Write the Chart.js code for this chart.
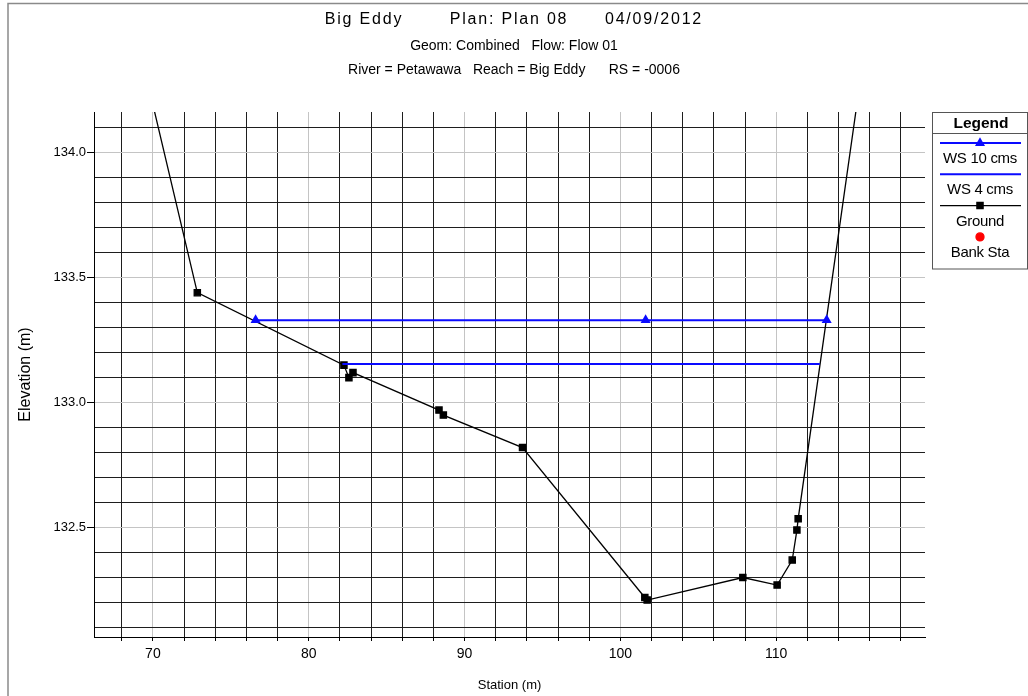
<!DOCTYPE html>
<html>
<head>
<meta charset="utf-8">
<title>Big Eddy cross section RS -0006</title>
<script src="https://cdn.jsdelivr.net/npm/chart.js@4/dist/chart.umd.min.js"></script>
<style>
  html, body { margin: 0; padding: 0; background: #fff; }
  #wrap { width: 1028px; height: 696px; position: relative; }
</style>
</head>
<body>
<div id="wrap"><canvas id="xs" width="1028" height="696"></canvas></div>
<script>
// Cross-section survey, station (m) / elevation (m)
const groundStation   = [68.0, 72.85, 82.26, 82.58, 82.84, 88.36, 88.64, 93.72, 101.57, 101.72, 107.86, 110.06, 111.03, 111.33, 111.41, 116.0];
const groundElevation = [134.72, 133.44, 133.15, 133.10, 133.12, 132.97, 132.95, 132.82, 132.22, 132.21, 132.30, 132.27, 132.37, 132.49, 132.535, 134.555];

// Water surfaces for the two profiles
const ws10Station   = [76.59, 101.62, 113.24];
const ws10Elevation = [133.33, 133.33, 133.33];
const ws4Station    = [82.16, 112.80];
const ws4Elevation  = [133.155, 133.155];

// Bank stations (none inside the plotted window)
const bankStation   = [];
const bankElevation = [];

// Axes
const xTickLabels = [70, 80, 90, 100, 110];
const yTickLabels = [132.5, 133.0, 133.5, 134.0];
const xRange = [66.22, 119.55];
const yRange = [132.062, 134.163];
const xGridStep = 2;
const yGridStep = 0.1;

const titleParts = ['Big Eddy', 'Plan: Plan 08', '04/09/2012'];
const subtitleLines = ['Geom: Combined   Flow: Flow 01', 'River = Petawawa   Reach = Big Eddy      RS = -0006'];

const FONT = '"Liberation Sans", Arial, Helvetica, sans-serif';

function gridValues(lo, hi, step, decimals) {
  const out = [];
  const f = Math.pow(10, decimals);
  for (let v = Math.ceil(lo / step) * step; v <= hi + 1e-9; v += step) {
    out.push(Math.round(v * f) / f);
  }
  return out;
}
const xGrid = gridValues(xRange[0], xRange[1], xGridStep, 0);
const yGrid = gridValues(yRange[0], yRange[1], yGridStep, 1);

const pts = (xs, ys) => xs.map((x, i) => ({ x: x, y: ys[i] }));
const isLabelled = (list, v) => list.some(t => Math.abs(t - v) < 1e-6);

// Heading text, outer frame and the stacked legend box
const decorations = {
  id: 'decorations',
  afterDraw(chart) {
    const ctx = chart.ctx;
    ctx.save();

    ctx.strokeStyle = '#8a8a8a';
    ctx.lineWidth = 1.5;
    ctx.beginPath();
    ctx.moveTo(8, 700); ctx.lineTo(8, 3.5); ctx.lineTo(1030, 3.5);
    ctx.stroke();

    ctx.fillStyle = '#000';
    ctx.textBaseline = 'middle';
    ctx.textAlign = 'center';
    ctx.font = '16px ' + FONT;
    ctx.letterSpacing = '1.8px';
    const titleCenters = [364, 509, 654];
    titleParts.forEach((t, i) => ctx.fillText(t, titleCenters[i], 20));

    ctx.font = '14px ' + FONT;
    ctx.letterSpacing = '0px';
    ctx.fillText(subtitleLines[0], 514, 46);
    ctx.fillText(subtitleLines[1], 514, 70);

    // legend
    const lx = 932.5, lw = 95, ly = 112.5, lh = 156.5, cx = 980;
    ctx.strokeStyle = '#555';
    ctx.lineWidth = 1;
    ctx.strokeRect(lx, ly, lw, lh);
    ctx.beginPath(); ctx.moveTo(lx, 133.5); ctx.lineTo(lx + lw, 133.5); ctx.stroke();
    ctx.font = 'bold 15.5px ' + FONT;
    ctx.fillText('Legend', cx + 1, 123.5);

    ctx.font = '15px ' + FONT;
    ctx.letterSpacing = '-0.3px';
    chart.data.datasets.forEach((ds, i) => {
      const sy = 143 + i * 31.3;
      const ty = 159 + i * 31.3;
      if (ds.showLine) {
        ctx.strokeStyle = ds.borderColor;
        ctx.lineWidth = ds.borderWidth;
        ctx.beginPath(); ctx.moveTo(940, sy); ctx.lineTo(1021, sy); ctx.stroke();
      }
      if (ds.pointRadius > 0) {
        ctx.fillStyle = ds.pointBackgroundColor;
        ctx.strokeStyle = ds.pointBorderColor;
        Chart.helpers.drawPoint(ctx, {
          pointStyle: ds.pointStyle, radius: ds.pointRadius, rotation: 0, borderWidth: 1
        }, cx, sy);
      }
      ctx.fillStyle = '#000';
      ctx.fillText(ds.label, cx, ty);
    });
    ctx.restore();
  }
};

new Chart(document.getElementById('xs'), {
  type: 'scatter',
  data: {
    datasets: [
      {
        label: 'WS 10 cms', data: pts(ws10Station, ws10Elevation), order: 1,
        showLine: true, borderColor: '#0a0aff', borderWidth: 2,
        pointStyle: 'triangle', pointRadius: 3.8,
        pointBackgroundColor: '#0a0aff', pointBorderColor: '#0a0aff'
      },
      {
        label: 'WS 4 cms', data: pts(ws4Station, ws4Elevation), order: 2,
        showLine: true, borderColor: '#0a0aff', borderWidth: 2,
        pointRadius: 0, pointBackgroundColor: '#0a0aff', pointBorderColor: '#0a0aff'
      },
      {
        label: 'Ground', data: pts(groundStation, groundElevation), order: 3,
        showLine: true, borderColor: '#000', borderWidth: 1.3,
        pointStyle: 'rect', pointRadius: 4.4,
        pointBackgroundColor: '#000', pointBorderColor: '#000'
      },
      {
        label: 'Bank Sta', data: pts(bankStation, bankElevation), order: 4,
        showLine: false, borderColor: '#ff0000', borderWidth: 0,
        pointStyle: 'circle', pointRadius: 4,
        pointBackgroundColor: '#ff0000', pointBorderColor: '#ff0000'
      }
    ]
  },
  options: {
    responsive: false,
    animation: false,
    layout: { padding: { top: 112, right: 103, left: 0, bottom: 0 } },
    elements: { line: { tension: 0 } },
    plugins: {
      legend: { display: false },
      title: { display: false },
      tooltip: { enabled: false }
    },
    scales: {
      x: {
        type: 'linear', min: xRange[0], max: xRange[1],
        afterBuildTicks(s) { s.ticks = xGrid.map(v => ({ value: v })); },
        afterFit(s) { s.height = 59; },
        ticks: {
          autoSkip: false, maxRotation: 0, minRotation: 0, padding: 5, color: '#000',
          font: { family: FONT, size: 14 },
          callback: v => isLabelled(xTickLabels, v) ? String(v) : ''
        },
        grid: {
          color: c => (c.tick && isLabelled(xTickLabels, c.tick.value)) ? '#c4c4c4' : '#1e1e1e',
          lineWidth: 1, drawTicks: true, tickLength: 4, tickColor: '#000'
        },
        border: { display: true, color: '#000', width: 1 },
        title: {
          display: true, text: 'Station (m)', color: '#000',
          font: { family: FONT, size: 13 }, padding: { top: 0, bottom: 3 }
        }
      },
      y: {
        type: 'linear', min: yRange[0], max: yRange[1],
        afterBuildTicks(s) { s.ticks = yGrid.map(v => ({ value: v })); },
        afterFit(s) { s.width = 94; },
        ticks: {
          autoSkip: false, padding: 1, color: '#000',
          font: { family: FONT, size: 13 },
          callback: v => isLabelled(yTickLabels, v) ? v.toFixed(1) : ''
        },
        grid: {
          color: c => (c.tick && isLabelled(yTickLabels, c.tick.value)) ? '#c4c4c4' : '#1e1e1e',
          lineWidth: 1, drawTicks: true, tickLength: 7,
          tickColor: c => (c.tick && isLabelled(yTickLabels, c.tick.value)) ? '#000' : 'rgba(0,0,0,0)'
        },
        border: { display: true, color: '#000', width: 1 },
        title: {
          display: true, text: 'Elevation (m)', color: '#000',
          font: { family: FONT, size: 16 }, padding: { top: 16, bottom: 0 }
        }
      }
    }
  },
  plugins: [decorations]
});
</script>
</body>
</html>
